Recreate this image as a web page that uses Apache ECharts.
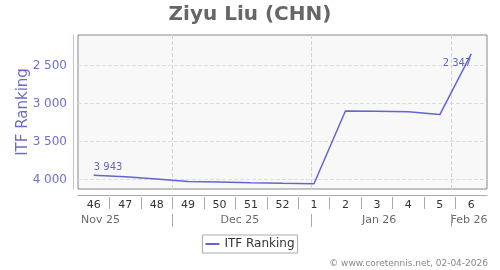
<!DOCTYPE html>
<html><head><meta charset="utf-8">
<script src="https://cdn.jsdelivr.net/npm/echarts@6/dist/echarts.min.js"></script>
<style>html,body{margin:0;padding:0;background:#fff}#c{width:500px;height:270px}</style>
</head><body><div id="c"></div>
<script>
// ---- data ----
const weeks = ['46','47','48','49','50','51','52','1','2','3','4','5','6'];
const ranking = [3943, 3965, 3992, 4026, 4032, 4042, 4050, 4056, 3099, 3101, 3109, 3146, 2347];
const months = ['Nov 25', 'Dec 25', 'Jan 26', 'Feb 26'];
const monthLabelDates = ['2025-11-15', '2025-12-16', '2026-01-16', '2026-02-05'];
const monthStarts = ['2025-12-01', '2026-01-01', '2026-02-01'];
const periodStart = '2025-11-10';
const periodEnd = '2026-02-09';
const seriesName = 'ITF Ranking';
const titleText = 'Ziyu Liu (CHN)';
const footerText = '© www.coretennis.net, 02-04-2026';

const FONT = 'DejaVu Sans';
const LINE = '#6464d0';
const fmt = v => String(v).replace(/\B(?=(\d{3})+(?!\d))/g, ' ');

const chart = echarts.init(document.getElementById('c'), null, {renderer: 'canvas'});
const lastIdx = ranking.length - 1;
const lineData = ranking.map((v, i) => {
  if (i === 0) return {value: v, label: {show: true, position: 'top', align: 'left', distance: 3}};
  if (i === lastIdx) return {value: v, label: {show: true, position: 'bottom', align: 'right', distance: 5}};
  return v;
});

chart.setOption({
  animation: false,
  textStyle: {fontFamily: FONT},
  title: [
    {text: titleText, left: 'center', top: 0,
     textStyle: {color: '#666', fontSize: 20, fontWeight: 'bold', fontFamily: FONT}},
    {text: footerText, right: 7, top: 254,
     textStyle: {color: '#888', fontSize: 9, fontWeight: 'normal', fontFamily: FONT}}
  ],
  legend: {
    data: [seriesName], left: 'center', top: 235,
    icon: 'rect', itemWidth: 14, itemHeight: 2, itemGap: 5,
    borderColor: '#aaa', borderWidth: 1, borderRadius: 0, padding: [3, 3, 3, 3],
    textStyle: {color: '#333', fontSize: 12, fontFamily: FONT}
  },
  grid: [
    {left: 78, top: 35, width: 409, height: 154, show: true,
     backgroundColor: '#f8f8f8', borderColor: '#888', borderWidth: 1},
    {left: 78, top: 197, width: 409, height: 12},
    {left: 78, top: 214, width: 409, height: 13}
  ],
  xAxis: [
    {type: 'category', gridIndex: 0, data: weeks, position: 'bottom', offset: 6,
     axisLine: {lineStyle: {color: '#aaa'}}, axisTick: {show: false},
     axisLabel: {color: '#333', fontSize: 11, margin: 5, fontFamily: FONT}, splitLine: {show: false}},
    {type: 'time', gridIndex: 0, show: false, min: periodStart, max: periodEnd},
    {type: 'category', gridIndex: 1, data: weeks, axisLine: {show: false}, axisTick: {show: false},
     axisLabel: {show: false},
     splitLine: {show: true, showMinLine: false, showMaxLine: false, lineStyle: {color: '#aaa', width: 1}}},
    {type: 'time', gridIndex: 2, show: false, min: periodStart, max: periodEnd}
  ],
  yAxis: [
    {type: 'value', gridIndex: 0, inverse: true, min: 2100, max: 4125, splitNumber: 5,
     position: 'left', offset: 5,
     axisLine: {show: true, lineStyle: {color: '#c0c0e8'}}, axisTick: {show: false},
     axisLabel: {color: '#7070cc', fontSize: 12, margin: 6, formatter: fmt,
                 showMinLabel: false, showMaxLabel: false, fontFamily: FONT},
     splitLine: {show: true, showMinLine: false, showMaxLine: false,
                 lineStyle: {color: '#ddd', type: 'dashed', width: 1}},
     name: seriesName, nameLocation: 'middle', nameGap: 42, nameMoveOverlap: false,
     nameTextStyle: {color: '#6a6acc', fontSize: 15, fontFamily: FONT}},
    {type: 'value', gridIndex: 1, show: false, min: 0, max: 1},
    {type: 'value', gridIndex: 2, show: false, min: 0, max: 1}
  ],
  series: [
    {name: seriesName, type: 'line', xAxisIndex: 0, yAxisIndex: 0, data: lineData,
     symbol: 'circle', symbolSize: 0, showSymbol: true,
     lineStyle: {color: LINE, width: 1.5}, itemStyle: {color: LINE},
     label: {show: false, color: LINE, fontSize: 10, fontFamily: FONT, formatter: p => fmt(p.value)},
     z: 5},
    {type: 'line', xAxisIndex: 1, yAxisIndex: 0, data: [],
     markLine: {silent: true, symbol: 'none', label: {show: false},
                lineStyle: {color: '#d4d4d4', type: 'dashed', width: 1},
                data: monthStarts.map(d => ({xAxis: d}))}},
    {type: 'scatter', xAxisIndex: 3, yAxisIndex: 2, symbolSize: 0,
     data: monthLabelDates.map(d => [d, 0.5]),
     label: {show: true, position: 'inside', color: '#444', fontSize: 11, fontFamily: FONT,
             formatter: p => months[p.dataIndex]},
     markLine: {silent: true, symbol: 'none', label: {show: false},
                lineStyle: {color: '#aaa', type: 'solid', width: 1},
                data: monthStarts.map(d => ({xAxis: d}))}}
  ]
});
</script></body></html>
